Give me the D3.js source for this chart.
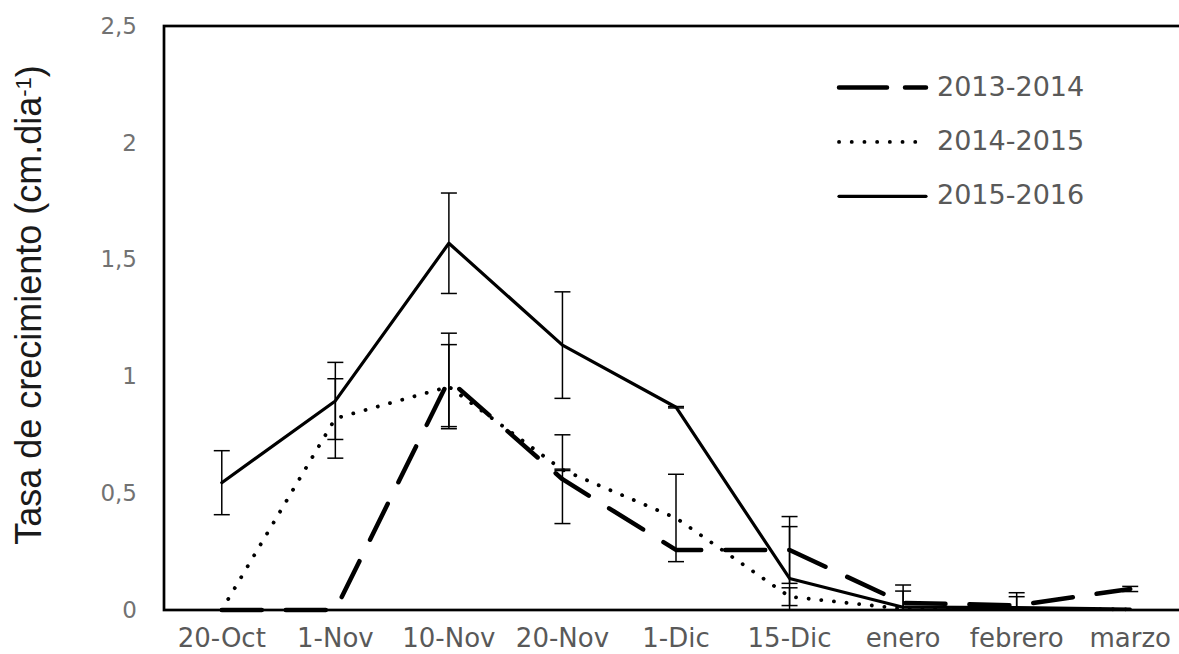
<!doctype html>
<html>
<head>
<meta charset="utf-8"/>
<title>Tasa de crecimiento</title>
<script src="https://d3js.org/d3.v7.min.js"></script>
<style>
  body { margin: 0; background: #fff; }
  text { font-family: "DejaVu Sans", sans-serif; }
</style>
</head>
<body>
<div id="chart"></div>
<script>
// categorias del eje x
var categorias = ["20-Oct", "1-Nov", "10-Nov", "20-Nov", "1-Dic", "15-Dic", "enero", "febrero", "marzo"];

// series (valor medio) y su error
var serie2013 = [0, 0, 0.985, 0.56, 0.257, 0.257, 0.03, 0.02, 0.09];
var error2013 = [0, 0, 0.2, 0.19, 0, 0.143, 0.077, 0.054, 0.011];

var serie2014 = [0, 0.82, 0.956, 0.6, 0.394, 0.057, 0.005, 0.005, 0.003];
var error2014 = [0, 0.17, 0.18, 0.003, 0.187, 0.038, 0.076, 0.052, 0];

var serie2015 = [0.545, 0.895, 1.57, 1.134, 0.868, 0.135, 0.012, 0.01, 0.004];
var error2015 = [0.137, 0.165, 0.215, 0.228, 0.003, 0.222, 0, 0, 0];

var nombres = ["2013-2014", "2014-2015", "2015-2016"];
var ticksY = [0, 0.5, 1, 1.5, 2, 2.5];

var ancho = 1179, alto = 654;
var izq = 164, arriba = 26, abajo = 610;

var svg = d3.select("#chart")
    .append("svg")
    .attr("width", ancho)
    .attr("height", alto);

var x = d3.scaleBand()
    .domain(categorias)
    .range([165, 1187]);

var y = d3.scaleLinear()
    .domain([0, 2.5])
    .range([abajo, arriba]);

function cx(d, i) { return x(categorias[i]) + x.bandwidth() / 2; }

// estilos de cada serie
var estilos = [
  { valores: serie2013, errores: error2013, ancho: 4.5, dash: "40,24" },
  { valores: serie2014, errores: error2014, ancho: 3.8, dash: "0.1,12.6" },
  { valores: serie2015, errores: error2015, ancho: 3.2, dash: null }
];

// eje y (solo etiquetas)
var ejeY = svg.append("g")
    .attr("transform", "translate(" + izq + ",0)")
    .call(d3.axisLeft(y).tickValues(ticksY).tickSize(0).tickPadding(27)
      .tickFormat(function(d) { return String(d).replace(".", ","); }));
ejeY.select(".domain").remove();
ejeY.selectAll("text")
    .attr("fill", "#727272")
    .style("font-size", "23px")
    .style("font-family", "DejaVu Sans");

// eje x (solo etiquetas)
var ejeX = svg.append("g")
    .attr("transform", "translate(0," + abajo + ")")
    .call(d3.axisBottom(x).tickSize(0).tickPadding(19));
ejeX.select(".domain").remove();
ejeX.selectAll("text")
    .attr("fill", "#595959")
    .style("font-size", "26px")
    .style("font-family", "DejaVu Sans");

// lineas
var linea = d3.line()
    .x(cx)
    .y(function(d) { return y(d); });

estilos.forEach(function(s) {
  svg.append("path")
    .datum(s.valores)
    .attr("d", linea)
    .attr("fill", "none")
    .attr("stroke", "#000")
    .attr("stroke-width", s.ancho)
    .attr("stroke-linecap", "round")
    .attr("stroke-linejoin", "round")
    .attr("stroke-dasharray", s.dash);
});

// barras de error
estilos.forEach(function(s) {
  s.valores.forEach(function(v, i) {
    var e = s.errores[i];
    if (e <= 0) return;
    var xc = cx(v, i);
    var yt = y(v + e);
    var yb = y(Math.max(0, v - e));
    var g = svg.append("g").attr("stroke", "#000").attr("stroke-width", 1.5);
    g.append("line").attr("x1", xc).attr("x2", xc).attr("y1", yt).attr("y2", yb);
    g.append("line").attr("x1", xc - 8).attr("x2", xc + 8).attr("y1", yt).attr("y2", yt);
    g.append("line").attr("x1", xc - 8).attr("x2", xc + 8).attr("y1", yb).attr("y2", yb);
  });
});

// marco del grafico
svg.append("rect")
    .attr("x", izq)
    .attr("y", arriba)
    .attr("width", 1200 - izq)
    .attr("height", abajo - arriba)
    .attr("fill", "none")
    .attr("stroke", "#000")
    .attr("stroke-width", 2.7);

// leyenda
var leyenda = svg.append("g");
estilos.forEach(function(s, i) {
  var ly = 87.5 + i * 54.4;
  leyenda.append("line")
    .attr("x1", 839).attr("x2", 926)
    .attr("y1", ly).attr("y2", ly)
    .attr("stroke", "#000")
    .attr("stroke-width", s.ancho)
    .attr("stroke-linecap", "round")
    .attr("stroke-dasharray", s.dash === "40,24" ? "48,18" : s.dash);
  leyenda.append("text")
    .attr("x", 937)
    .attr("y", ly + 8)
    .attr("fill", "#595959")
    .style("font-size", "27px")
    .text(nombres[i]);
});

// titulo eje y
var titulo = svg.append("text")
    .attr("transform", "translate(41,305) rotate(-90)")
    .attr("text-anchor", "middle")
    .attr("fill", "#1a1a1a")
    .style("font-family", "Liberation Sans")
    .style("font-size", "36px");
titulo.append("tspan").text("Tasa de crecimiento (cm.dia");
titulo.append("tspan").attr("dy", "-0.45em").style("font-size", "22px").text("-1");
titulo.append("tspan").attr("dy", "0.3em").text(")");
</script>
</body>
</html>
